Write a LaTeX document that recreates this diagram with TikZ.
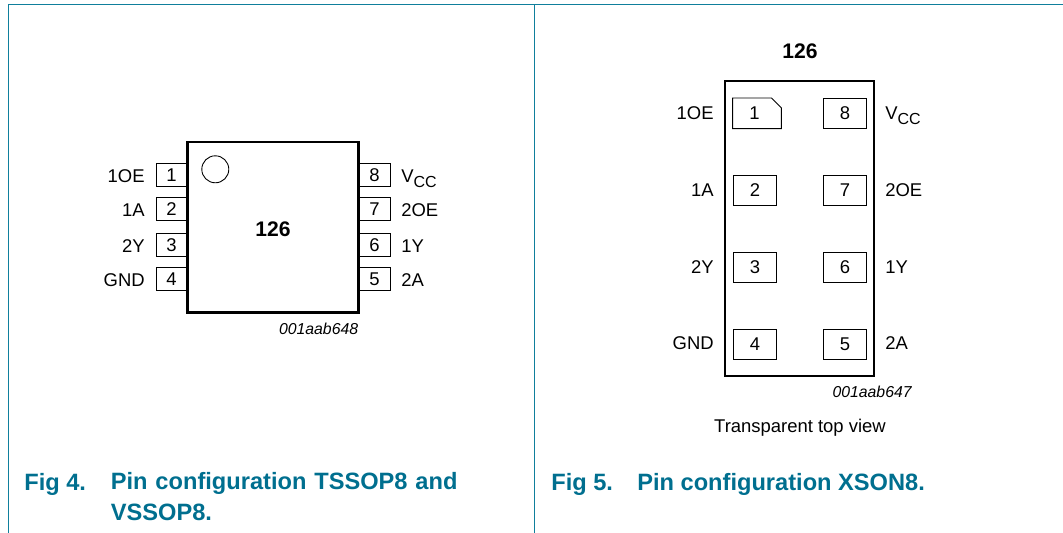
\documentclass[tikz,border=0pt]{standalone}
\usepackage{fontspec}
\setmainfont{Liberation Sans}
\usepackage{tikz}
\usetikzlibrary{shapes,positioning,calc}
\definecolor{framecol}{HTML}{0F7F9C}
\definecolor{capcol}{HTML}{006F8F}
\newcommand{\vcc}{V\raisebox{-0.5ex}{\fontsize{9.1}{10}\selectfont CC}}
\tikzstyle{chip}=[rectangle, draw=black, line width=1.3pt, inner sep=0pt]
\tikzstyle{legbox}=[rectangle, draw=black, line width=0.5pt, inner sep=0pt, minimum width=0.62cm, minimum height=0.46cm, font=\fontsize{10.5}{12}\selectfont]
\tikzstyle{padbox}=[rectangle, draw=black, line width=0.5pt, inner sep=0pt, minimum width=0.87cm, minimum height=0.6cm, font=\fontsize{10.5}{12}\selectfont]
\tikzstyle{sig}=[inner sep=0pt, font=\fontsize{10.5}{12}\selectfont]
\tikzstyle{partno}=[inner sep=0pt, font=\bfseries\fontsize{12}{14}\selectfont]
\tikzstyle{code}=[inner sep=0pt, font=\itshape\fontsize{9}{10}\selectfont]
\tikzstyle{figcap}=[inner sep=0pt, text=capcol, align=left, font=\bfseries\fontsize{13.45}{17.6}\selectfont]
\begin{document}
\begin{tikzpicture}[x=0.02cm, y=-0.02cm]
	\useasboundingbox (0,0) rectangle (1063,533);
	\coordinate(TL)at(8.5,4.5);
	\coordinate(TR)at(1063,4.5);
	\coordinate(BL)at(8.5,533);
	\coordinate(TM)at(534.5,4.5);
	\coordinate(BM)at(534.5,533);
	\draw[framecol, line width=0.7pt](BL)--(TL)--(TR);
	\draw[framecol, line width=0.7pt](TM)--(BM);
	% left package
	\node[legbox](p1)at(171.5,174.7){1};
	\node[legbox](p2)at(171.5,209){2};
	\node[legbox](p3)at(171.5,244.7){3};
	\node[legbox](p4)at(171.5,278.8){4};
	\node[legbox](p8)at(374.5,174.7){8};
	\node[legbox](p7)at(374.5,209){7};
	\node[legbox](p6)at(374.5,244.7){6};
	\node[legbox](p5)at(374.5,278.8){5};
	\node[chip, fill=white, minimum width=3.42cm, minimum height=3.41cm](body)at(273,227.3){};
	\node[partno](n126)at(273,229){126};
	\node[circle, draw=black, line width=0.5pt, minimum size=0.54cm, inner sep=0pt](dot)at(215.3,169.3){};
	\node[sig, anchor=base east](l1)at(145,182.7){1OE};
	\node[sig, anchor=base east](l2)at(145,216.7){1A};
	\node[sig, anchor=base east](l3)at(145,252.7){2Y};
	\node[sig, anchor=base east](l4)at(145,286.7){GND};
	\node[sig, anchor=base west](l8)at(401,182.7){\vcc};
	\node[sig, anchor=base west](l7)at(401,216.7){2OE};
	\node[sig, anchor=base west](l6)at(401,252.7){1Y};
	\node[sig, anchor=base west](l5)at(401,286.7){2A};
	\node[code, anchor=east](c1)at(358.5,329){001aab648};
	% right package
	\node[partno](m126)at(800,51.5){126};
	\node[chip, minimum width=2.98cm, minimum height=5.9cm](case)at(799.8,228.5){};
	\node[minimum width=0.96cm, minimum height=0.6cm, inner sep=0pt](q1)at(757,113.3){};
	\draw[line width=0.5pt](q1.north west)--($(q1.north east)+(-10,0)$)--($(q1.north east)+(0,10)$)--(q1.south east)--(q1.south west)--cycle;
	\node[sig](q1t)at(754.5,113.3){1};
	\node[padbox](q2)at(755,190){2};
	\node[padbox](q3)at(755,267){3};
	\node[padbox](q4)at(755,344){4};
	\node[padbox](q8)at(845,113.3){8};
	\node[padbox](q7)at(845,190){7};
	\node[padbox](q6)at(845,267){6};
	\node[padbox](q5)at(845,344){5};
	\node[sig, anchor=base east](r1)at(714,119.5){1OE};
	\node[sig, anchor=base east](r2)at(714,196.5){1A};
	\node[sig, anchor=base east](r3)at(714,273.5){2Y};
	\node[sig, anchor=base east](r4)at(714,350){GND};
	\node[sig, anchor=base west](r8)at(885,119.5){\vcc};
	\node[sig, anchor=base west](r7)at(885,196.5){2OE};
	\node[sig, anchor=base west](r6)at(885,273.5){1Y};
	\node[sig, anchor=base west](r5)at(885,350){2A};
	\node[code, anchor=east](c2)at(912,392){001aab647};
	\node[sig](tv)at(800,428){Transparent top view};
	% captions
	\node[figcap, anchor=base west](f4)at(24,491){Fig 4.};
	\node[figcap, anchor=north west, text width=8cm](f4t)at(110.5,472.5){Pin configuration TSSOP8 and\\VSSOP8.};
	\node[figcap, anchor=base west](f5)at(551,491){Fig 5.};
	\node[figcap, anchor=base west](f5t)at(637,491){Pin configuration XSON8.};
\end{tikzpicture}
\end{document}
